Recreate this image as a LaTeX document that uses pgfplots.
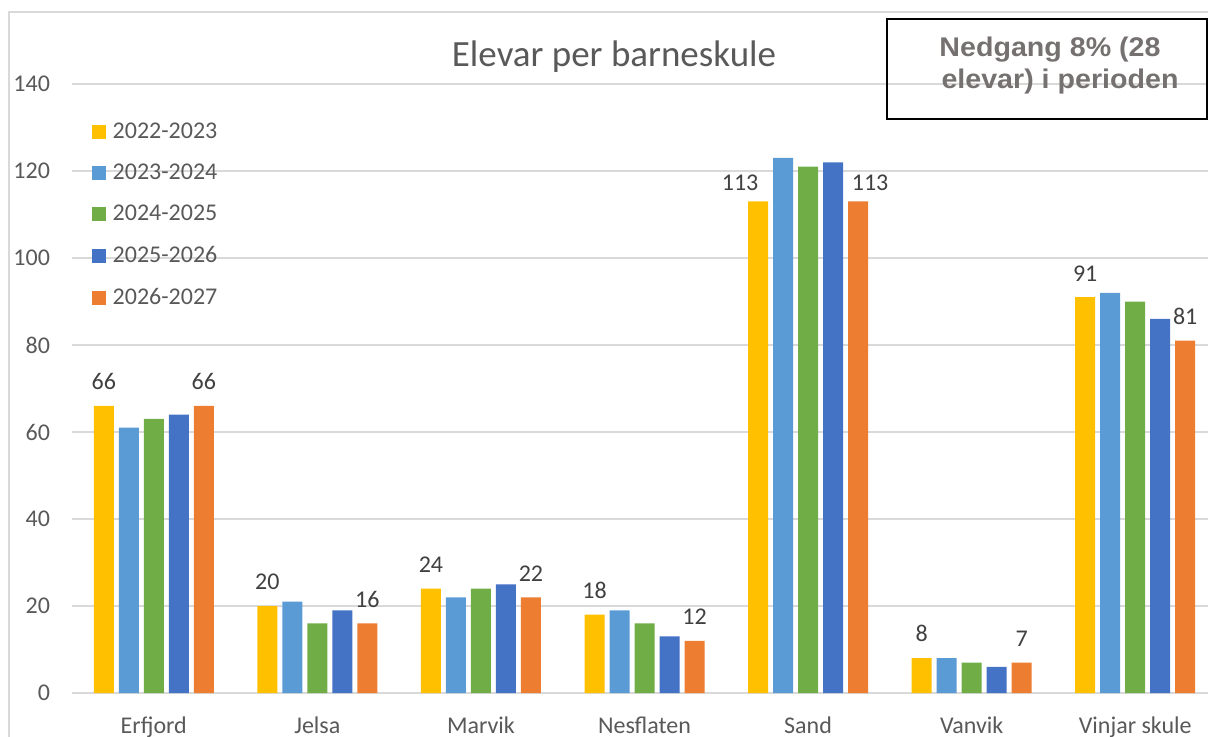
\documentclass[border=0pt]{standalone}
\usepackage{fontspec}
\setmainfont{Carlito}
\newfontfamily\arialfont{Liberation Sans}
\usepackage{graphicx}
\usepackage{pgfplots}
\pgfplotsset{compat=1.18}
\definecolor{cA}{HTML}{FFC000}
\definecolor{cB}{HTML}{5B9BD5}
\definecolor{cC}{HTML}{70AD47}
\definecolor{cD}{HTML}{4472C4}
\definecolor{cE}{HTML}{ED7D31}
\definecolor{gridgray}{HTML}{D9D9D9}
\definecolor{tickgray}{HTML}{595959}
\definecolor{labgray}{HTML}{404040}
\definecolor{boxgray}{HTML}{767171}
\begin{document}
\begin{tikzpicture}
\useasboundingbox (-36pt,-21.5pt) rectangle (568pt,346.5pt);
\draw[gridgray, line width=0.75pt] (-31.5pt,-40pt) -- (-31.5pt,340.5pt) -- (590pt,340.5pt);
\begin{axis}[
  at={(0,0)}, anchor=south west, scale only axis,
  width=568pt, height=304.5pt,
  ybar=2.5pt, bar width=10pt,
  every axis plot/.append style={legend image code/.code={\fill[##1] (0pt,-3.5pt) rectangle (7pt,3.5pt);}},
  xmin=-0.5, xmax=6.445, ymin=0, ymax=140,
  ytick={0,20,...,140},
  xtick={0,...,6},
  xticklabels={Erfjord,Jelsa,Marvik,Nesflaten,Sand,Vanvik,Vinjar skule},
  axis line style={draw=none},
  tick style={draw=none},
  ymajorgrids,
  major grid style={draw=gridgray, line width=0.75pt},
  /pgf/number format/assume math mode=true,
  ticklabel style={font=\fontsize{12}{14}\selectfont, text=tickgray},
  yticklabel style={xshift=-7.5pt},
  xticklabel style={yshift=-4pt},
  clip=false,
  nodes near coords style={font=\fontsize{12}{14}\selectfont, text=labgray},
  legend style={at={(axis description cs:0.017,0.942)}, anchor=north west,
    draw=none, fill=none, inner sep=0pt, row sep=8.3pt, column sep=2pt,
    nodes={inner sep=1.5pt},
    font=\fontsize{12}{14}\selectfont, text=tickgray, cells={anchor=west}},
]
\addplot[fill=cA, draw=none, nodes near coords, point meta=y,
  visualization depends on={value \thisrow{dx}\as\dx},
  visualization depends on={value \thisrow{dy}\as\dy},
  every node near coord/.append style={xshift=\dx, yshift=\dy}]
  table[x=x,y=y] {
x y dx dy
0 66 0 4.5
1 20 0 4.5
2 24 0 4.5
3 18 0 4.5
4 113 -9 2
5 8 0 4.5
6 91 0 4.5
};
\addplot[fill=cB, draw=none] table[x=x,y=y] {
x y
0 61
1 21
2 22
3 19
4 123
5 8
6 92
};
\addplot[fill=cC, draw=none] table[x=x,y=y] {
x y
0 63
1 16
2 24
3 16
4 121
5 7
6 90
};
\addplot[fill=cD, draw=none] table[x=x,y=y] {
x y
0 64
1 19
2 25
3 13
4 122
5 6
6 86
};
\addplot[fill=cE, draw=none, nodes near coords, point meta=y,
  visualization depends on={value \thisrow{dx}\as\dx},
  visualization depends on={value \thisrow{dy}\as\dy},
  every node near coord/.append style={xshift=\dx, yshift=\dy}]
  table[x=x,y=y] {
x y dx dy
0 66 0 4.5
1 16 0 4.5
2 22 0 4.5
3 12 0 4.5
4 113 6 2
5 7 0 4.5
6 81 0 4.5
};
\legend{2022-2023,2023-2024,2024-2025,2025-2026,2026-2027}
\end{axis}
\node[text=tickgray, font=\fontsize{18.5}{22}\selectfont] at (271pt,318pt) {Elevar per barneskule};
\draw[black, line width=1pt] (407.5pt,287pt) rectangle (567.5pt,337pt);
\node[anchor=base, inner sep=0pt, text=boxgray, font=\arialfont\bfseries\fontsize{13.5}{15}\selectfont] at (489pt,318.5pt) {\scalebox{1.06}[1]{Nedgang 8\% (28}};
\node[anchor=base, inner sep=0pt, text=boxgray, font=\arialfont\bfseries\fontsize{13.5}{15}\selectfont] at (494pt,302.5pt) {\scalebox{1.06}[1]{elevar) i perioden}};
\end{tikzpicture}
\end{document}
